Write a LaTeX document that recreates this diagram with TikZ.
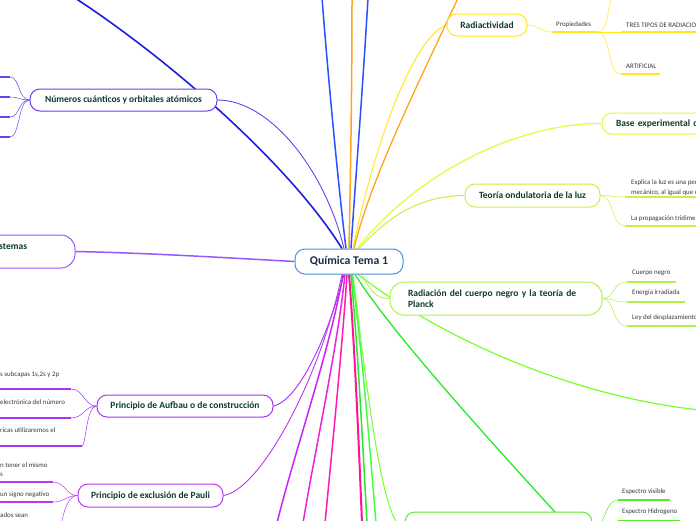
\documentclass[tikz,border=0pt]{standalone}
\usepackage{fontspec}
\setmainfont{Carlito}
\usetikzlibrary{backgrounds}
\definecolor{tg}{HTML}{0E3B2C}
\definecolor{qtext}{HTML}{1B2B4B}
\definecolor{leafc}{HTML}{3A3A3A}
\definecolor{qbord}{HTML}{4A90E2}
\definecolor{dblue}{HTML}{1F1FE0}
\definecolor{bblue}{HTML}{2B50FF}
\definecolor{orng}{HTML}{FFA41C}
\definecolor{ylw}{HTML}{FFE81F}
\definecolor{ylwg}{HTML}{E4FA3C}
\definecolor{lgrn}{HTML}{C9F047}
\definecolor{rgrn}{HTML}{AEF24A}
\definecolor{fgrn}{HTML}{7BFF2A}
\definecolor{grn}{HTML}{2AE82A}
\definecolor{grn2}{HTML}{44FF44}
\definecolor{bgrn}{HTML}{55EE22}
\definecolor{pnum}{HTML}{6644EE}
\definecolor{psis}{HTML}{9955FF}
\definecolor{paub}{HTML}{A633F5}
\definecolor{ppau}{HTML}{B83AF0}
\definecolor{viol}{HTML}{CC22FF}
\definecolor{mag1}{HTML}{EE22DD}
\definecolor{mag2}{HTML}{FF1AB5}
\definecolor{pink}{HTML}{FF1493}
\begin{document}
\begin{tikzpicture}[x=1pt,y=-1pt,
  mnode/.style={draw, rounded corners=10pt, fill=white, line width=1pt, font=\bfseries\fontsize{9.5}{11.5}\selectfont, text=tg, inner sep=0pt},
  leaf/.style={font=\fontsize{6.9}{9}\selectfont, text=leafc, anchor=west, inner sep=0pt, align=left},
  ln/.style={line width=0.5pt},
  ul/.style={line width=1.5pt},
  mc/.style={line width=1.5pt}]
\useasboundingbox (0,0) rectangle (696,520);

% ---------- nodes ----------
\node[draw=qbord, rounded corners=10pt, fill=white, line width=1pt, inner sep=0pt,
      minimum width=108pt, minimum height=25pt, font=\bfseries\fontsize{11.8}{13}\selectfont, text=qtext] (q) at (349,261.5) {Química Tema 1};
\node[mnode, draw=pnum, minimum width=187pt, minimum height=22pt] (num) at (123.5,100) {Números cuánticos y orbitales atómicos};
\node[mnode, draw=psis, rounded corners=14pt, minimum width=115pt, minimum height=33pt] (sis) at (17.5,251.5) {};
\node[font=\bfseries\fontsize{9.5}{11.5}\selectfont, text=tg, anchor=west, inner sep=0pt] (sist) at (-1,246.5) {stemas};
\node[mnode, draw=ylw, minimum width=80pt, minimum height=22pt] (rad) at (487,25) {Radiactividad};
\node[mnode, draw=ylwg, minimum width=140pt, minimum height=21pt, text width=112pt, align=left] (base) at (672,123.5) {Base experimental d};
\node[mnode, draw=lgrn, minimum width=135pt, minimum height=23pt] (teo) at (532.5,195.5) {Teoría ondulatoria de la luz};
\node[mnode, draw=rgrn, rounded corners=14pt, minimum width=212pt, minimum height=33pt, text width=176pt, align=left] (radn) at (496,298.5) {Radiación del cuerpo negro y la teoría de\\Planck};
\node[mnode, draw=bgrn, minimum width=187pt, minimum height=33pt] (bot) at (498.5,528.5) {};
\node[mnode, draw=paub, minimum width=176pt, minimum height=22pt] (aub) at (185,406) {Principio de Aufbau o de construcción};
\node[mnode, draw=ppau, minimum width=145pt, minimum height=23pt] (pau) at (150.5,495.5) {Principio de exclusión de Pauli};

% leaf texts
\node[leaf] (l1) at (556,25) {Propiedades};
\node[leaf] (l2) at (626,25) {TRES TIPOS DE RADIACIO};
\node[leaf] (l3) at (626,66) {ARTIFICIAL};
\node[leaf, font=\fontsize{6.9}{10.5}\selectfont] (l4) at (631,187.5) {Explica la luz es una per\\mecánico, al igual que e};
\node[leaf] (l5) at (631,219) {La propagación tridime};
\node[leaf] (l6) at (632,273) {Cuerpo negro};
\node[leaf] (l7) at (632,293) {Energía irradiada};
\node[leaf] (l8) at (632,318) {Ley del desplazamiento};
\node[leaf] (l9) at (622,492) {Espectro visible};
\node[leaf] (l10) at (622,512) {Espectro Hidrogeno};
\node[leaf] (l11) at (0,375) {s subcapas 1s,2s y 2p};
\node[leaf] (l12) at (0,402) {electrónica del número};
\node[leaf] (l13) at (0,430) {ricas utilizaremos el};
\node[leaf] (l14) at (0,470) {n tener el mismo\\s};
\node[leaf] (l15) at (0,495) {un signo negativo};
\node[leaf] (l16) at (0,515) {ados sean};

\begin{pgfonlayer}{background}
\fill[white] (-50,-10) rectangle (750,560);
% free ends
\coordinate (e1) at (75,-2);
\coordinate (e2) at (322,-2);
\coordinate (e3) at (352,-2);
\coordinate (e4) at (368,-2);
\coordinate (e5) at (458,-2);
\coordinate (e6) at (700,410);
\coordinate (e7) at (565,523);
\coordinate (e8) at (277,523);
\coordinate (e9) at (303,523);
\coordinate (e10) at (325,523);
\coordinate (e11) at (362,523);
\coordinate (e12) at (367,523);
\coordinate (e13) at (376,523);

% main connectors (top)
\draw[dblue, line width=1.6pt] (e1) .. controls (170,60) and (290,165) .. ([xshift=-7pt]q.north);
\draw[pnum, line width=0.9pt] (num.east) .. controls (270,100) and (325,170) .. ([xshift=-5pt]q.north);
\draw[bblue, mc] (e2) .. controls (330,100) and (340,200) .. ([xshift=-3pt]q.north);
\draw[orng, mc] (e3) .. controls (352,100) and (350,200) .. (q.north);
\draw[bblue, mc] (e4) .. controls (362,100) and (354,200) .. ([xshift=2pt]q.north);
\draw[ylw, line width=1pt] (rad.west) .. controls (415,35) and (375,140) .. ([xshift=4pt]q.north);
\draw[orng, line width=1.3pt] (e5) .. controls (420,80) and (370,180) .. ([xshift=5pt]q.north);
\draw[ylwg, line width=1.2pt] ([xshift=8pt]q.north) .. controls (420,170) and (520,123) .. (base.west);
\draw[lgrn, line width=1pt] ([xshift=10pt]q.north) .. controls (390,215) and (420,196) .. (teo.west);
% left
\draw[psis, mc] (sis.east) .. controls (150,253) and (230,258) .. (q.west);
% bottom
\draw[rgrn, line width=0.8pt] ([xshift=13pt]q.south) .. controls (370,290) and (375,298.5) .. (radn.west);
\draw[fgrn, line width=1.2pt] ([xshift=9pt]q.south) .. controls (430,330) and (560,395) .. (e6);
\draw[grn, line width=1.3pt] ([xshift=6pt]q.south) .. controls (390,330) and (480,430) .. (e7);
\draw[fgrn, line width=1pt] ([xshift=4pt]q.south) .. controls (370,420) and (385,528.5) .. (bot.west);
\draw[grn2, mc] ([xshift=3pt]q.south) .. controls (362,350) and (370,450) .. (e13);
\draw[grn, mc] ([xshift=2pt]q.south) .. controls (358,350) and (363,450) .. (e12);
\draw[pink, line width=2pt] (q.south) .. controls (355,350) and (359,450) .. (e11);
\draw[mag2, mc] ([xshift=-2pt]q.south) .. controls (342,350) and (332,450) .. (e10);
\draw[mag1, mc] ([xshift=-4pt]q.south) .. controls (337,350) and (315,450) .. (e9);
\draw[viol, mc] ([xshift=-6pt]q.south) .. controls (330,350) and (295,450) .. (e8);
\draw[paub, line width=0.9pt] (aub.east) .. controls (300,400) and (330,330) .. ([xshift=-5pt]q.south);
\draw[ppau, line width=0.9pt] (pau.east) .. controls (260,490) and (320,380) .. ([xshift=-7pt]q.south);

% Radiactividad children
\coordinate (r1) at (552,32); \coordinate (r2) at (597,32);
\coordinate (r3) at (621,32); \coordinate (r3e) at (700,32);
\coordinate (r4) at (621,74); \coordinate (r4e) at (660,74);
\coordinate (r5) at (613,-4);
\draw[ylw, ln] (rad.east) .. controls (540,25) and (540,32) .. (r1);
\draw[ylw, ul] (r1) -- (r2);
\draw[ylw, ln] (r2) -- (r3);
\draw[ylw, ul] (r3) -- (r3e);
\draw[ylw, ln] (r2) .. controls (612,32) and (606,74) .. (r4);
\draw[ylw, ul] (r4) -- (r4e);
\draw[ylw, ln] (r2) .. controls (610,32) and (606,6) .. (r5);

% Teoria children
\coordinate (t1) at (625,197); \coordinate (t1e) at (700,197);
\coordinate (t2) at (625,226); \coordinate (t2e) at (700,226);
\draw[lgrn, ln] (teo.east) .. controls (612,195.5) and (612,197) .. (t1);
\draw[lgrn, ul] (t1) -- (t1e);
\draw[lgrn, ln] (teo.east) .. controls (614,195.5) and (611,226) .. (t2);
\draw[lgrn, ul] (t2) -- (t2e);

% Radiacion children
\coordinate (n1) at (627,282); \coordinate (n1e) at (676,282);
\coordinate (n2) at (627,302); \coordinate (n2e) at (685,302);
\coordinate (n3) at (627,326); \coordinate (n3e) at (700,326);
\draw[rgrn, ln] (radn.east) .. controls (615,298.5) and (612,282) .. (n1);
\draw[rgrn, ul] (n1) -- (n1e);
\draw[rgrn, ln] (radn.east) .. controls (615,298.5) and (612,302) .. (n2);
\draw[rgrn, ul] (n2) -- (n2e);
\draw[rgrn, ln] (radn.east) .. controls (615,298.5) and (612,326) .. (n3);
\draw[rgrn, ul] (n3) -- (n3e);

% bottom box children
\coordinate (b1) at (618,500); \coordinate (b1e) at (670,500);
\coordinate (b2) at (618,521); \coordinate (b2e) at (680,521);
\draw[bgrn, ln] (bot.east) .. controls (606,528.5) and (604,500) .. (b1);
\draw[bgrn, ul] (b1) -- (b1e);
\draw[bgrn, ln] (bot.east) .. controls (606,528.5) and (604,521) .. (b2);
\draw[bgrn, ul] (b2) -- (b2e);

% Numeros children
\foreach \yy/\nm in {77/a,97/b,117/c,137/d}{
  \coordinate (nm\nm) at (10,\yy);
  \coordinate (nm\nm e) at (-5,\yy);
  \draw[pnum, ln] (num.west) .. controls (18,100) and (20,\yy) .. (nm\nm);
  \draw[pnum, ul] (nm\nm) -- (nm\nm e);
}

% Aufbau children
\coordinate (a1) at (71,389); \coordinate (a1e) at (-5,389);
\coordinate (a2) at (71,418); \coordinate (a2e) at (-5,418);
\coordinate (a3) at (82,446); \coordinate (a3e) at (-5,446);
\draw[paub, ln] (aub.west) .. controls (84,406) and (84,389) .. (a1);
\draw[paub, ul] (a1) -- (a1e);
\draw[paub, ln] (aub.west) .. controls (84,406) and (84,418) .. (a2);
\draw[paub, ul] (a2) -- (a2e);
\draw[paub, ln] (aub.west) .. controls (86,406) and (86,446) .. (a3);
\draw[paub, ul] (a3) -- (a3e);

% Pauli children
\coordinate (p1) at (53,482); \coordinate (p1e) at (-5,482);
\coordinate (p2) at (53,502); \coordinate (p2e) at (-5,502);
\coordinate (p3) at (60,530);
\draw[ppau, ln] (pau.west) .. controls (66,495.5) and (65,482) .. (p1);
\draw[ppau, ul] (p1) -- (p1e);
\draw[ppau, ln] (pau.west) .. controls (66,495.5) and (65,502) .. (p2);
\draw[ppau, ul] (p2) -- (p2e);
\draw[ppau, ln] (pau.west) .. controls (68,495.5) and (64,510) .. (p3);
\end{pgfonlayer}
\end{tikzpicture}
\end{document}
